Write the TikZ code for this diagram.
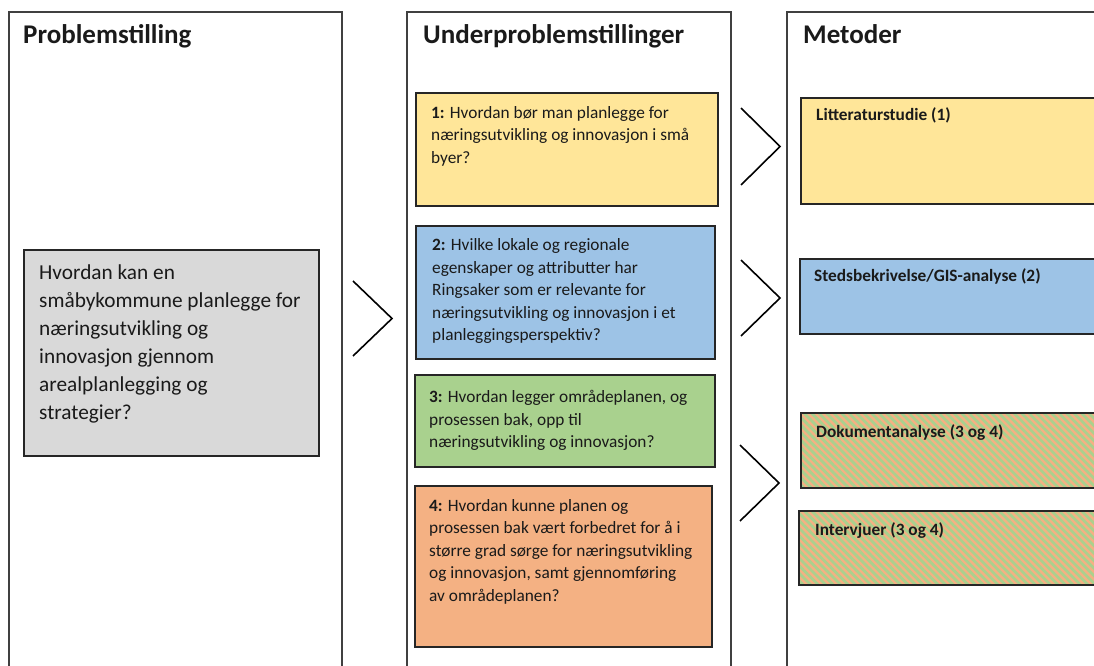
\documentclass[tikz,border=0pt]{standalone}
\usepackage{fontspec}
\setmainfont{Carlito}
\usetikzlibrary{patterns.meta}
\definecolor{framegray}{HTML}{404040}
\definecolor{boxborder}{HTML}{262626}
\definecolor{txt}{HTML}{1A1A1A}
\definecolor{yellowq}{HTML}{FFE699}
\definecolor{blueq}{HTML}{9DC3E6}
\definecolor{greenq}{HTML}{A9D18E}
\definecolor{orangeq}{HTML}{F4B183}
\definecolor{grayq}{HTML}{D9D9D9}
\tikzset{
  colframe/.style={draw=framegray, line width=1.2pt, fill=white, inner sep=0pt, outer sep=0pt, anchor=north west},
  qbox/.style={draw=boxborder, line width=1.3pt, inner sep=0pt, outer sep=0pt, anchor=north west},
  hatchbox/.style={qbox, preaction={fill=orangeq}, pattern={Lines[angle=-45,distance=5.3pt,line width=2.7pt]}, pattern color=greenq},
  coltitle/.style={anchor=base west, inner sep=0pt, text=txt, font=\bfseries\fontsize{27}{32}\selectfont},
  qtext/.style={anchor=north west, yshift=11pt, align=left, inner sep=0pt, text=txt,
    font=\fontsize{17.3}{22.5}\selectfont, execute at begin node={\rule{0pt}{20pt}}},
  mtext/.style={anchor=base west, inner sep=0pt, text=txt, font=\bfseries\fontsize{17.3}{22.5}\selectfont},
  ptext/.style={anchor=north west, yshift=13pt, align=left, inner sep=0pt, text=txt,
    font=\fontsize{21.3}{28}\selectfont, execute at begin node={\rule{0pt}{25pt}}},
  chev/.style={draw=black, line width=1.6pt, line join=miter}
}
\begin{document}
\begin{tikzpicture}[x=1pt,y=-1pt]
\useasboundingbox (0,0) rectangle (1094,666);
\clip (0,0) rectangle (1094,666);
% column frames
\node[colframe, minimum width=333pt, minimum height=700pt] (c1) at (9,12) {};
\node[colframe, minimum width=324pt, minimum height=700pt] (c2) at (407,12) {};
\node[colframe, minimum width=340pt, minimum height=700pt] (c3) at (787,12) {};
% titles
\node[coltitle] (t1) at (23,44) {Problemstilling};
\node[coltitle] (t2) at (423,44) {Underproblemstillinger};
\node[coltitle] (t3) at (803,44) {Metoder};
% main question
\node[qbox, fill=grayq, minimum width=295pt, minimum height=206pt] (p) at (24,250) {};
\node[ptext] (pt) at (39,278) {Hvordan kan en\\småbykommune planlegge for\\næringsutvikling og\\innovasjon gjennom\\arealplanlegging og\\strategier?};
% sub questions
\node[qbox, fill=yellowq, minimum width=302pt, minimum height=113pt] (q1) at (416,93) {};
\node[qtext] (q1t) at (431,117) {\textbf{1:} Hvordan bør man planlegge for\\næringsutvikling og innovasjon i små\\byer?};
\node[qbox, fill=blueq, minimum width=299pt, minimum height=133pt] (q2) at (416,226) {};
\node[qtext] (q2t) at (432,249.5) {\textbf{2:} Hvilke lokale og regionale\\egenskaper og attributter har\\Ringsaker som er relevante for\\næringsutvikling og innovasjon i et\\planleggingsperspektiv?};
\node[qbox, fill=greenq, minimum width=300pt, minimum height=92pt] (q3) at (415,375) {};
\node[qtext] (q3t) at (429,401.5) {\textbf{3:} Hvordan legger områdeplanen, og\\prosessen bak, opp til\\næringsutvikling og innovasjon?};
\node[qbox, fill=orangeq, minimum width=297pt, minimum height=161pt] (q4) at (415,486) {};
\node[qtext] (q4t) at (429,510) {\textbf{4:} Hvordan kunne planen og\\prosessen bak vært forbedret for å i\\større grad sørge for næringsutvikling\\og innovasjon, samt gjennomføring\\av områdeplanen?};
% methods
\node[qbox, fill=yellowq, minimum width=320pt, minimum height=106pt] (m1) at (801,98) {};
\node[mtext] (m1t) at (816,120.5) {Litteraturstudie (1)};
\node[qbox, fill=blueq, minimum width=320pt, minimum height=75pt] (m2) at (800,259) {};
\node[mtext] (m2t) at (814,281) {Stedsbekrivelse/GIS-analyse (2)};
\node[hatchbox, minimum width=320pt, minimum height=75pt] (m3) at (801,413) {};
\node[mtext] (m3t) at (816,437) {Dokumentanalyse (3 og 4)};
\node[hatchbox, minimum width=320pt, minimum height=74pt] (m4) at (799,511) {};
\node[mtext] (m4t) at (815,535) {Intervjuer (3 og 4)};
% chevrons
\draw[chev] (353,281) -- (392,318.5) -- (353,356);
\draw[chev] (741,108) -- (780,146.5) -- (741,185);
\draw[chev] (741,260) -- (780,298) -- (741,336);
\draw[chev] (740,445) -- (779,483) -- (740,521);
\end{tikzpicture}
\end{document}
